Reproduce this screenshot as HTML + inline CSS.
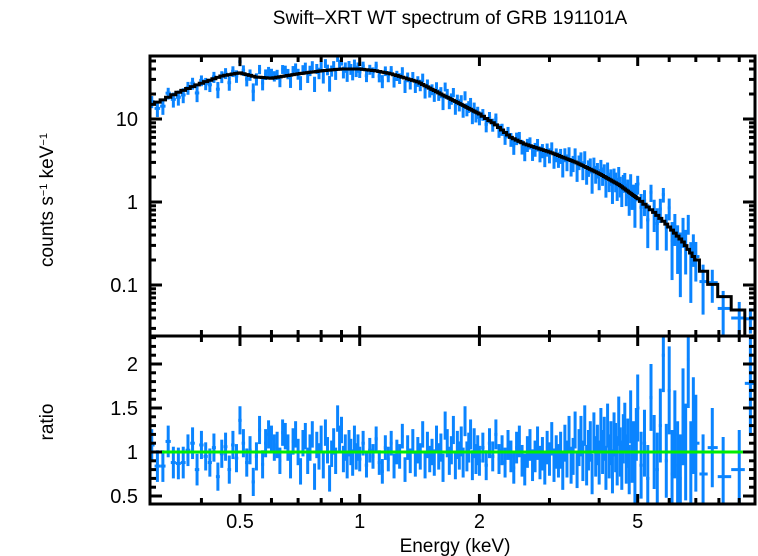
<!DOCTYPE html>
<html><head><meta charset="utf-8">
<style>
html,body{margin:0;padding:0;background:#fff;}
svg{display:block;font-family:"Liberation Sans",sans-serif;}
</style></head>
<body>
<svg id="chart" width="758" height="556" viewBox="0 0 758 556">
<text x="450" y="24" font-size="19" text-anchor="middle">Swift–XRT WT spectrum of GRB 191101A</text>
<text transform="translate(53,200) rotate(-90)" font-size="19" text-anchor="middle">counts s<tspan baseline-shift="super" font-size="11">−1</tspan> keV<tspan baseline-shift="super" font-size="11">−1</tspan></text>
<text transform="translate(53,422) rotate(-90)" font-size="19" text-anchor="middle">ratio</text>
<text x="455" y="552" font-size="19" text-anchor="middle">Energy (keV)</text>
<g id="marks"></g>
<g id="axes"></g>
</svg>
<script>
const energies=[0.30,0.31,0.32,0.33,0.34,0.35,0.36,0.37,0.38,0.39,
0.40,0.41,0.42,0.43,0.44,0.45,0.46,0.47,0.48,0.49,
0.50,0.51,0.52,0.53,0.54,0.55,0.56,0.57,0.58,0.59,
0.60,0.61,0.62,0.63,0.64,0.65,0.66,0.67,0.68,0.69,
0.70,0.71,0.72,0.73,0.74,0.75,0.76,0.77,0.78,0.79,
0.80,0.81,0.82,0.83,0.84,0.85,0.86,0.87,0.88,0.89,
0.90,0.91,0.92,0.93,0.94,0.95,0.96,0.97,0.98,0.99,
1.00,1.02,1.04,1.06,1.08,1.10,1.12,1.14,1.16,1.18,
1.20,1.22,1.24,1.26,1.28,1.30,1.32,1.34,1.36,1.38,
1.40,1.42,1.44,1.46,1.48,1.50,1.52,1.54,1.56,1.58,
1.60,1.62,1.64,1.66,1.68,1.70,1.72,1.74,1.76,1.78,
1.80,1.82,1.84,1.86,1.88,1.90,1.92,1.94,1.96,1.98,
2.00,2.04,2.08,2.12,2.16,2.20,2.24,2.28,2.32,2.36,
2.40,2.44,2.48,2.52,2.56,2.60,2.64,2.68,2.72,2.76,
2.80,2.84,2.88,2.92,2.96,3.00,3.04,3.08,3.12,3.16,
3.20,3.24,3.28,3.32,3.36,3.40,3.44,3.48,3.52,3.56,
3.60,3.64,3.68,3.72,3.76,3.80,3.84,3.88,3.92,3.96,
4.00,4.04,4.08,4.12,4.16,4.20,4.24,4.28,4.32,4.36,
4.40,4.44,4.48,4.52,4.56,4.60,4.64,4.68,4.72,4.76,
4.80,4.84,4.88,4.92,4.96,
5.0,5.1,5.2,5.3,5.4,5.5,5.6,5.7,5.8,5.9,
6.0,6.1,6.2,6.3,6.4,6.5,6.6,6.7,6.8,6.9,
7.0,7.3,7.7,8.2,9.0,9.6];
const ratios=[1.08,0.84,0.84,1.12,0.88,0.87,0.88,1.02,1.10,0.80,
1.08,0.95,0.88,1.05,0.72,0.98,1.06,0.80,1.08,0.93,
1.36,1.10,0.88,1.02,0.66,0.95,1.25,0.86,1.10,1.20,
1.15,1.05,1.08,0.90,1.22,1.18,1.05,0.85,1.12,1.20,
1.00,0.78,1.10,1.18,0.90,1.05,1.20,0.72,1.08,0.95,
1.15,0.85,1.22,1.02,0.70,0.98,1.12,0.90,1.38,1.15,
1.25,0.92,1.05,0.85,1.10,1.00,0.88,1.15,0.95,1.05,
0.92,1.10,0.85,1.02,0.95,1.15,0.88,0.78,1.05,0.92,
1.10,0.84,1.00,0.95,1.18,0.80,1.05,0.90,1.12,0.86,
1.02,0.95,1.20,0.85,1.08,0.92,1.00,0.88,1.15,0.95,
1.05,0.82,1.30,1.10,0.90,1.02,1.25,0.85,1.08,0.96,
1.12,0.88,1.35,0.95,1.05,1.20,0.85,1.10,0.92,1.02,
0.90,1.05,0.85,1.10,0.95,1.20,0.92,1.02,0.88,1.08,
0.95,0.82,1.05,1.12,0.90,0.80,1.00,1.08,0.85,0.95,
1.10,0.88,0.98,0.82,1.05,0.92,1.15,0.85,1.00,0.90,
1.02,0.78,1.10,0.92,1.20,0.85,0.95,1.25,0.80,1.05,
1.18,0.90,1.30,0.85,1.02,1.12,0.75,1.22,0.95,1.08,
0.88,1.25,1.00,1.15,0.82,1.30,0.95,1.10,0.78,1.20,
1.05,0.90,1.35,1.00,0.85,1.15,1.28,0.92,1.10,0.80,
1.40,0.95,1.05,0.72,1.20,
1.50,0.85,1.10,0.70,1.62,1.00,0.80,1.30,2.10,0.90,
1.70,0.75,1.20,0.85,0.70,1.40,1.00,2.05,0.80,1.30,
1.10,0.75,1.05,0.72,0.80,1.78];
const ratioErrs=[0.18,0.18,0.18,0.18,0.18,0.18,0.18,0.18,0.18,0.18,
0.16,0.16,0.16,0.16,0.16,0.16,0.16,0.16,0.16,0.16,
0.16,0.16,0.16,0.16,0.16,0.16,0.16,0.16,0.16,0.16,
0.15,0.15,0.15,0.15,0.15,0.15,0.15,0.15,0.15,0.15,
0.15,0.15,0.15,0.15,0.15,0.15,0.15,0.15,0.15,0.15,
0.15,0.15,0.15,0.15,0.15,0.15,0.15,0.15,0.15,0.15,
0.15,0.15,0.15,0.15,0.15,0.15,0.15,0.15,0.15,0.15,
0.14,0.14,0.14,0.14,0.14,0.14,0.14,0.14,0.14,0.14,
0.14,0.14,0.14,0.14,0.14,0.14,0.14,0.14,0.14,0.14,
0.15,0.15,0.15,0.15,0.15,0.15,0.15,0.15,0.15,0.15,
0.16,0.16,0.16,0.16,0.16,0.16,0.16,0.16,0.16,0.16,
0.17,0.17,0.17,0.17,0.17,0.17,0.17,0.17,0.17,0.17,
0.17,0.17,0.17,0.17,0.17,0.17,0.17,0.17,0.17,0.17,
0.18,0.18,0.18,0.18,0.18,0.18,0.18,0.18,0.18,0.18,
0.19,0.19,0.19,0.19,0.19,0.19,0.19,0.19,0.19,0.19,
0.21,0.21,0.21,0.21,0.21,0.21,0.21,0.21,0.21,0.21,
0.23,0.23,0.23,0.23,0.23,0.23,0.23,0.23,0.23,0.23,
0.25,0.25,0.25,0.25,0.25,0.25,0.25,0.25,0.25,0.25,
0.28,0.28,0.28,0.28,0.28,0.28,0.28,0.28,0.28,0.28,
0.30,0.30,0.30,0.30,0.30,
0.38,0.38,0.38,0.38,0.38,0.42,0.42,0.42,0.42,0.42,
0.50,0.50,0.50,0.50,0.50,0.55,0.55,0.55,0.55,0.55,
0.55,0.45,0.45,0.45,0.45,0.60];
const modelE=[0.30,0.32,0.35,0.40,0.45,0.50,0.55,0.60,0.70,0.80,0.90,1.00,1.10,1.20,1.40,1.60,1.80,2.00,2.20,2.40,2.60,3.00,3.50,4.00,4.50,5.00,5.50,6.00,6.50,7.00,7.50,8.00,9.00,9.60];
const modelC=[15,17,21,27,33,36,32,31,35,38,40,40,38,35,28,20,15,11.5,8.5,6,5,4,3,2.2,1.6,1.1,0.75,0.5,0.33,0.2,0.12,0.08,0.05,0.022];
const xTickLabels=["0.5","1","2","5"];
const xTickVals=[0.5,1,2,5];
const yTopTickVals=[0.1,1,10];
const yTopTickLabels=["0.1","1","10"];
const yRatioTickVals=[0.5,1,1.5,2];
const yRatioTickLabels=["0.5","1","1.5","2"];

const L=150,R=755,T=56,MID=336,B=504;
const xMin=Math.log10(0.297),xMax=Math.log10(9.86);
const X=e=>L+(Math.log10(e)-xMin)/(xMax-xMin)*(R-L);
const Ytop=v=>119-(Math.log10(v)-1)*83;
const Yr=v=>452-(v-1)*88;
const NS="http://www.w3.org/2000/svg";
function mk(tag,attrs,parent){const el=document.createElementNS(NS,tag);for(const k in attrs)el.setAttribute(k,attrs[k]);parent.appendChild(el);return el;}
function model(e){
  const le=Math.log10(e);
  if(e<=modelE[0])return modelC[0];
  for(let i=1;i<modelE.length;i++){if(e<=modelE[i]){const a=Math.log10(modelE[i-1]),b=Math.log10(modelE[i]);const t=(le-a)/(b-a);return Math.pow(10,Math.log10(modelC[i-1])*(1-t)+Math.log10(modelC[i])*t);}}
  return modelC[modelC.length-1];
}
const marks=document.getElementById('marks');
const axes=document.getElementById('axes');
const clipD=mk('defs',{},marks);
const c1=mk('clipPath',{id:'ctop'},clipD);mk('rect',{x:L,y:T,width:R-L,height:MID-T},c1);
const c2=mk('clipPath',{id:'cbot'},clipD);mk('rect',{x:L,y:MID,width:R-L,height:B-MID},c2);
const gTop=mk('g',{'clip-path':'url(#ctop)'},marks);
const gBot=mk('g',{'clip-path':'url(#cbot)'},marks);
function edges(i){const lo=i>0?Math.sqrt(energies[i-1]*energies[i]):energies[0]*0.985;const hi=i<energies.length-1?Math.sqrt(energies[i]*energies[i+1]):energies[i]*1.04;return [lo,hi];}
for(let i=0;i<energies.length;i++){
  const [lo,hi]=edges(i);const m=model(energies[i]);const r=ratios[i],er=ratioErrs[i];
  const g=mk('g',{stroke:'#0a84ff','stroke-width':3},gTop);
  
  
  mk('line',{x1:X(lo),x2:X(hi),y1:Ytop(m*r),y2:Ytop(m*r)},g);
  mk('line',{x1:X(energies[i]),x2:X(energies[i]),y1:Ytop(m*(r+er)),y2:Ytop(Math.max(m*(r-er),0.001))},g);
  const g2=mk('g',{stroke:'#0a84ff','stroke-width':3},gBot);
  
  
  mk('line',{x1:X(lo),x2:X(hi),y1:Yr(r),y2:Yr(r)},g2);
  mk('line',{x1:X(energies[i]),x2:X(energies[i]),y1:Yr(r+er),y2:Yr(r-er)},g2);
}
const gl=mk('line',{x1:L,x2:R,y1:Yr(1),y2:Yr(1),stroke:'#00ee00','stroke-width':3},gBot);


let d='';
for(let i=0;i<energies.length;i++){const [lo,hi]=edges(i);const y=Ytop(model(energies[i]));d+=(i===0?'M':'L')+X(lo)+','+y+'L'+X(hi)+','+y;}
d+='L'+X(edges(energies.length-1)[1])+','+MID;
const mp=mk('path',{d:d,fill:'none',stroke:'#000','stroke-width':3},gTop);


for(const [y1,y2,nm] of [[T,MID,'top-panel-frame'],[MID,B,'ratio-panel-frame']]){
  const f=mk('rect',{x:L,y:y1,width:R-L,height:y2-y1,fill:'none',stroke:'#000','stroke-width':3},axes);
  
  
}
const minorX=[0.3,0.4,0.6,0.7,0.8,0.9,3,4,6,7,8,9];
for(const [yy,dir] of [[T,1],[MID,-1],[MID,1],[B,-1]]){
  for(const v of xTickVals)mk('line',{x1:X(v),x2:X(v),y1:yy,y2:yy+dir*10,stroke:'#000','stroke-width':3},axes);
  for(const v of minorX)if(X(v)>L+2&&X(v)<R-2)mk('line',{x1:X(v),x2:X(v),y1:yy,y2:yy+dir*6,stroke:'#000','stroke-width':3},axes);
}
xTickVals.forEach((v,i)=>{const t=mk('text',{x:X(v),y:528,'font-size':20,'text-anchor':'middle'},axes);t.textContent=xTickLabels[i];

});
for(let dec=-2;dec<=1;dec++)for(let k=1;k<=9;k++){const v=k*Math.pow(10,dec);const y=Ytop(v);if(y<T+1||y>MID-1)continue;const len=k===1?12:6;
  mk('line',{x1:L,x2:L+len,y1:y,y2:y,stroke:'#000','stroke-width':3},axes);
  mk('line',{x1:R,x2:R-len,y1:y,y2:y,stroke:'#000','stroke-width':3},axes);}
yTopTickVals.forEach((v,i)=>{const t=mk('text',{x:138,y:Ytop(v)+7,'font-size':20,'text-anchor':'end'},axes);t.textContent=yTopTickLabels[i];

});
for(let k=5;k<=23;k++){const v=k/10;const y=Yr(v);if(y<MID+1||y>B-1)continue;const len=(k%5===0)?12:6;
  mk('line',{x1:L,x2:L+len,y1:y,y2:y,stroke:'#000','stroke-width':3},axes);
  mk('line',{x1:R,x2:R-len,y1:y,y2:y,stroke:'#000','stroke-width':3},axes);}
yRatioTickVals.forEach((v,i)=>{const t=mk('text',{x:138,y:Yr(v)+7,'font-size':20,'text-anchor':'end'},axes);t.textContent=yRatioTickLabels[i];

});
</script>
</body></html>
